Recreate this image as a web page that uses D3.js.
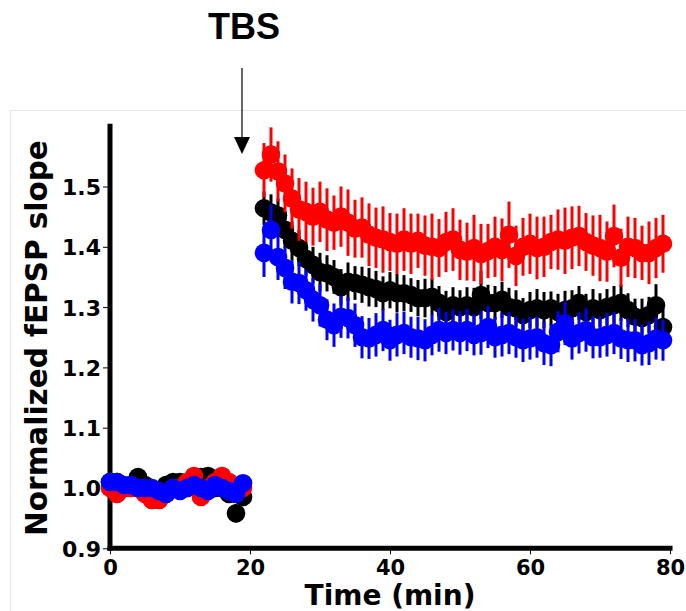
<!DOCTYPE html>
<html>
<head>
<meta charset="utf-8">
<script src="https://cdn.jsdelivr.net/npm/d3@7"></script>
<style>
  body { margin: 0; background: #fff; }
  svg text { font-family: "DejaVu Sans", sans-serif; font-weight: bold; fill: #000; }
</style>
</head>
<body>
<div id="chart"></div>
<script>
// time points (min), baseline then after TBS
const time = [0,1,2,3,4,5,6,7,8,9,10,11,12,13,14,15,16,17,18,19,
  22,23,24,25,26,27,28,29,30,31,
  32,33,34,35,36,37,38,39,40,41,
  42,43,44,45,46,47,48,49,50,51,
  52,53,54,55,56,57,58,59,60,61,
  62,63,64,65,66,67,68,69,70,71,
  72,73,74,75,76,77,78,79]

const redVals = [1.00,0.99,1.00,1.00,1.00,0.99,0.98,0.98,0.99,1.00,1.00,1.01,1.02,0.985,1.00,1.01,1.02,1.01,1.00,1.00,
  1.527,1.553,1.525,1.505,1.480,1.462,1.458,1.450,1.458,1.445,
  1.440,1.450,1.440,1.430,1.432,1.420,1.415,1.412,1.408,1.405,
  1.412,1.405,1.410,1.402,1.400,1.398,1.408,1.412,1.395,1.392,
  1.398,1.388,1.393,1.400,1.395,1.420,1.385,1.400,1.405,1.398,
  1.400,1.408,1.412,1.410,1.415,1.418,1.408,1.402,1.398,1.392,
  1.418,1.382,1.400,1.398,1.390,1.390,1.398,1.405]
const redErr = [0.008,0.01,0.008,0.008,0.01,0.008,0.01,0.01,0.008,0.008,0.01,0.01,0.012,0.01,0.008,0.01,0.01,0.008,0.01,0.01,
  0.045,0.045,0.050,0.048,0.050,0.052,0.050,0.048,0.050,0.052,
  0.045,0.050,0.055,0.048,0.050,0.052,0.050,0.055,0.048,0.050,
  0.052,0.050,0.045,0.050,0.055,0.048,0.050,0.052,0.050,0.048,
  0.055,0.050,0.045,0.050,0.052,0.055,0.050,0.048,0.050,0.052,
  0.050,0.045,0.050,0.055,0.052,0.050,0.048,0.050,0.055,0.050,
  0.052,0.048,0.050,0.050,0.045,0.052,0.050,0.048]

const blackVals = [1.01,1.01,1.00,1.005,1.018,1.005,0.995,0.99,1.005,1.01,1.01,1.00,1.005,1.018,1.02,1.00,1.00,0.99,0.958,0.985,
  1.464,1.457,1.452,1.428,1.410,1.398,1.380,1.370,1.358,1.356,
  1.350,1.333,1.342,1.340,1.337,1.333,1.330,1.323,1.328,1.323,
  1.323,1.320,1.315,1.315,1.317,1.307,1.292,1.303,1.300,1.303,
  1.300,1.320,1.307,1.307,1.312,1.300,1.298,1.287,1.295,1.298,
  1.295,1.298,1.292,1.295,1.298,1.307,1.292,1.298,1.295,1.300,
  1.303,1.307,1.295,1.284,1.282,1.287,1.303,1.267]
const blackErr = [0.008,0.008,0.008,0.008,0.008,0.008,0.008,0.008,0.008,0.008,0.008,0.008,0.008,0.008,0.008,0.008,0.008,0.01,0.015,0.01,
  0.028,0.030,0.028,0.030,0.032,0.030,0.028,0.030,0.032,0.030,
  0.028,0.030,0.032,0.028,0.030,0.032,0.030,0.028,0.030,0.032,
  0.030,0.028,0.030,0.032,0.030,0.028,0.035,0.030,0.028,0.030,
  0.032,0.040,0.030,0.028,0.030,0.032,0.030,0.028,0.030,0.032,
  0.030,0.028,0.030,0.032,0.030,0.028,0.030,0.032,0.028,0.030,
  0.032,0.030,0.028,0.030,0.032,0.030,0.035,0.030]

const blueVals = [1.01,1.01,1.005,1.005,1.00,1.00,1.00,0.995,0.99,1.00,0.995,1.00,1.005,1.00,0.995,1.005,1.00,0.995,0.99,1.008,
  1.390,1.428,1.383,1.365,1.342,1.340,1.328,1.312,1.303,1.279,
  1.270,1.284,1.282,1.270,1.250,1.248,1.254,1.262,1.245,1.254,
  1.257,1.250,1.248,1.245,1.254,1.262,1.257,1.262,1.257,1.262,
  1.254,1.257,1.267,1.250,1.254,1.257,1.250,1.245,1.248,1.250,
  1.240,1.237,1.259,1.273,1.248,1.257,1.262,1.250,1.250,1.254,
  1.257,1.248,1.245,1.245,1.237,1.240,1.248,1.245]
const blueErr = [0.008,0.008,0.008,0.008,0.008,0.008,0.008,0.008,0.008,0.008,0.008,0.008,0.008,0.008,0.008,0.008,0.008,0.008,0.008,0.008,
  0.040,0.042,0.038,0.035,0.036,0.035,0.034,0.036,0.035,0.034,
  0.036,0.035,0.034,0.036,0.035,0.034,0.036,0.035,0.034,0.036,
  0.035,0.034,0.036,0.035,0.034,0.036,0.035,0.034,0.036,0.035,
  0.034,0.036,0.035,0.034,0.036,0.035,0.034,0.036,0.035,0.034,
  0.036,0.035,0.034,0.036,0.035,0.034,0.036,0.035,0.034,0.036,
  0.035,0.034,0.036,0.035,0.034,0.036,0.035,0.034]

const xTicks = [0, 20, 40, 60, 80]
const yTicks = [0.9, 1.0, 1.1, 1.2, 1.3, 1.4, 1.5]

// drawing order: black, red, blue (blue ends on top)
const series = [
  {name: "black", color: "#000000", vals: blackVals, err: blackErr},
  {name: "red", color: "#ff0000", vals: redVals, err: redErr},
  {name: "blue", color: "#0000ff", vals: blueVals, err: blueErr}
]

const W = 686, H = 611

const svg = d3.select("#chart")
  .append("svg")
    .attr("width", W)
    .attr("height", H)

svg.append("rect")
  .attr("width", W).attr("height", H)
  .attr("fill", "#fff")

// faint frame around the figure panel
svg.append("rect")
  .attr("x", 10.5).attr("y", 110.5)
  .attr("width", 700).attr("height", 600)
  .attr("fill", "none")
  .attr("stroke", "#e6e6e6")
  .attr("stroke-width", 1)

const x = d3.scaleLinear().domain([0, 80]).range([110, 670])
const y = d3.scaleLinear().domain([0.9, 1.6]).range([548.3, 126.2])

// x axis
const xAxis = svg.append("g")
  .attr("transform", `translate(0,${y(0.9)})`)
  .call(d3.axisBottom(x).tickValues(xTicks).tickSize(6).tickFormat(d3.format("d")))
xAxis.select(".domain").remove()
xAxis.selectAll("text")
  .attr("y", 27).attr("dy", 0)
  .style("font-size", "21px")

// y axis
const yAxis = svg.append("g")
  .attr("transform", `translate(${x(0)},0)`)
  .call(d3.axisLeft(y).tickValues(yTicks).tickSize(7).tickFormat(d3.format(".1f")))
yAxis.select(".domain").remove()
yAxis.selectAll("text")
  .attr("x", -9).attr("dy", "0.36em")
  .style("font-size", "22px")

// spines
svg.append("line")
  .attr("x1", x(0)).attr("x2", x(0))
  .attr("y1", y(1.6)).attr("y2", y(0.9))
  .attr("stroke", "#000").attr("stroke-width", 5)
  .attr("stroke-linecap", "square")
svg.append("line")
  .attr("x1", x(0)).attr("x2", x(80))
  .attr("y1", y(0.9)).attr("y2", y(0.9))
  .attr("stroke", "#000").attr("stroke-width", 5)
  .attr("stroke-linecap", "square")

// error bars + markers
series.forEach(function(s) {
  const pts = time.map((t, i) => ({t: t, v: s.vals[i], e: s.err[i]}))
  const g = svg.append("g").attr("class", "series-" + s.name)
  g.selectAll("line")
    .data(pts)
    .join("line")
      .attr("x1", d => x(d.t)).attr("x2", d => x(d.t))
      .attr("y1", d => y(d.v - d.e)).attr("y2", d => y(d.v + d.e))
      .attr("stroke", s.color)
      .attr("stroke-width", 3)
  g.selectAll("circle")
    .data(pts)
    .join("circle")
      .attr("cx", d => x(d.t))
      .attr("cy", d => y(d.v))
      .attr("r", 9.3)
      .attr("fill", s.color)
})

// axis titles
svg.append("text")
  .attr("transform", `translate(47,338) rotate(-90)`)
  .attr("text-anchor", "middle")
  .style("font-size", "29.5px")
  .text("Normalized fEPSP slope")

svg.append("text")
  .attr("x", 390).attr("y", 605)
  .attr("text-anchor", "middle")
  .style("font-size", "28px")
  .text("Time (min)")

// TBS annotation
svg.append("text")
  .attr("x", 244).attr("y", 39)
  .attr("text-anchor", "middle")
  .style("font-family", "'Liberation Sans', Arial, sans-serif")
  .style("font-size", "36px")
  .text("TBS")

svg.append("line")
  .attr("x1", 242).attr("x2", 242)
  .attr("y1", 68).attr("y2", 139)
  .attr("stroke", "#333").attr("stroke-width", 1.5)
svg.append("path")
  .attr("d", "M234,137 L250,137 L242,154 Z")
  .attr("fill", "#000")
</script>
</body>
</html>
